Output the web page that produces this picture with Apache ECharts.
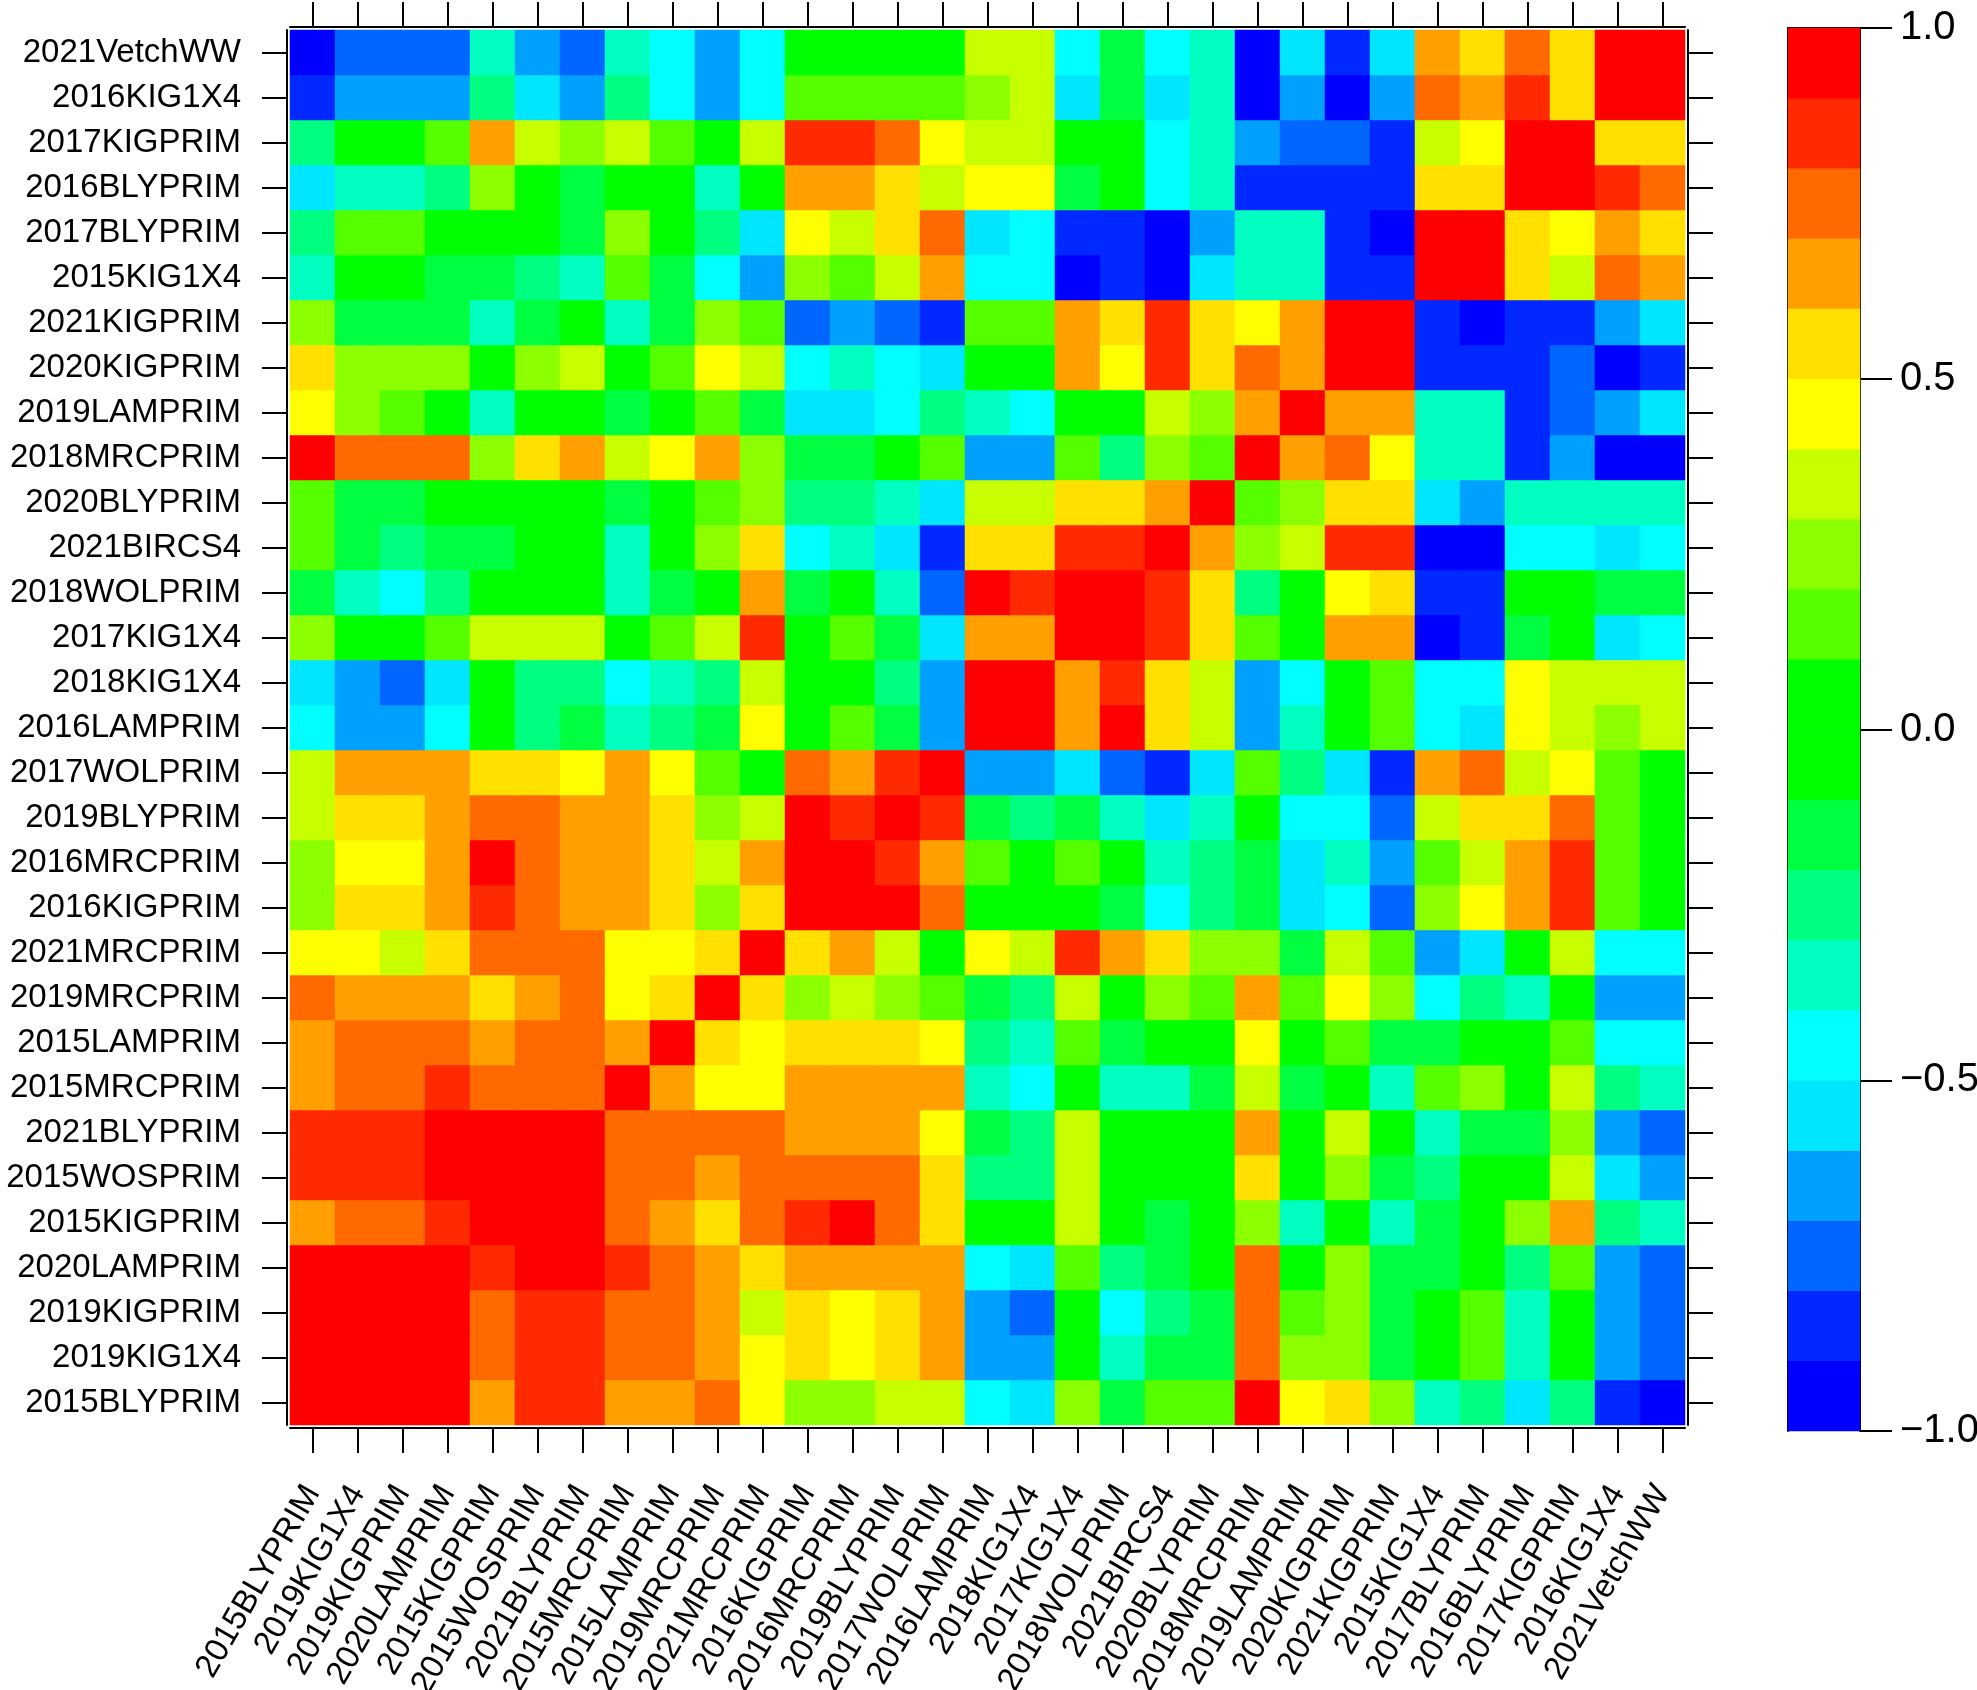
<!DOCTYPE html>
<html>
<head>
<meta charset="utf-8">
<script src="https://cdn.jsdelivr.net/npm/echarts@6/dist/echarts.min.js"></script>
<style>
  html, body { margin: 0; padding: 0; background: #fff; }
  #chart { width: 1977px; height: 1690px; }
</style>
</head>
<body>
<div id="chart"></div>
<script>
// trait order, left to right on x and bottom to top on y
const traits = [
  '2015BLYPRIM', '2019KIG1X4', '2019KIGPRIM', '2020LAMPRIM', '2015KIGPRIM',
  '2015WOSPRIM', '2021BLYPRIM', '2015MRCPRIM', '2015LAMPRIM', '2019MRCPRIM',
  '2021MRCPRIM', '2016KIGPRIM', '2016MRCPRIM', '2019BLYPRIM', '2017WOLPRIM',
  '2016LAMPRIM', '2018KIG1X4', '2017KIG1X4', '2018WOLPRIM', '2021BIRCS4',
  '2020BLYPRIM', '2018MRCPRIM', '2019LAMPRIM', '2020KIGPRIM', '2021KIGPRIM',
  '2015KIG1X4', '2017BLYPRIM', '2016BLYPRIM', '2017KIGPRIM', '2016KIG1X4',
  '2021VetchWW'
];

// lower triangle of the correlation matrix (row i has i+1 values)
const lowerTri = [
  [1],
  [0.95, 1],
  [0.95, 0.95, 1],
  [0.95, 0.95, 0.95, 1],
  [0.65, 0.75, 0.75, 0.85, 1],
  [0.85, 0.85, 0.85, 0.95, 0.95, 1],
  [0.85, 0.85, 0.85, 0.95, 0.95, 0.95, 1],
  [0.65, 0.75, 0.75, 0.85, 0.75, 0.75, 0.75, 1],
  [0.65, 0.75, 0.75, 0.75, 0.65, 0.75, 0.75, 0.65, 1],
  [0.75, 0.65, 0.65, 0.65, 0.55, 0.65, 0.75, 0.45, 0.55, 1],
  [0.45, 0.45, 0.35, 0.55, 0.75, 0.75, 0.75, 0.45, 0.45, 0.55, 1],
  [0.25, 0.55, 0.55, 0.65, 0.85, 0.75, 0.65, 0.65, 0.55, 0.25, 0.55, 1],
  [0.25, 0.45, 0.45, 0.65, 0.95, 0.75, 0.65, 0.65, 0.55, 0.35, 0.65, 0.95, 1],
  [0.35, 0.55, 0.55, 0.65, 0.75, 0.75, 0.65, 0.65, 0.55, 0.25, 0.35, 0.95, 0.85, 1],
  [0.35, 0.65, 0.65, 0.65, 0.55, 0.55, 0.45, 0.65, 0.45, 0.15, 0.05, 0.75, 0.65, 0.85, 1],
  [-0.45, -0.65, -0.65, -0.45, 0.05, -0.25, -0.15, -0.35, -0.25, -0.15, 0.45, 0.05, 0.15, -0.15, -0.65, 1],
  [-0.55, -0.65, -0.75, -0.55, 0.05, -0.25, -0.25, -0.45, -0.35, -0.25, 0.35, 0.05, 0.05, -0.25, -0.65, 0.95, 1],
  [0.25, 0.05, 0.05, 0.15, 0.35, 0.35, 0.35, 0.05, 0.15, 0.35, 0.85, 0.05, 0.15, -0.15, -0.55, 0.65, 0.65, 1],
  [-0.15, -0.35, -0.45, -0.25, 0.05, 0.05, 0.05, -0.35, -0.15, 0.05, 0.65, -0.15, 0.05, -0.35, -0.75, 0.95, 0.85, 0.95, 1],
  [0.15, -0.15, -0.25, -0.15, -0.15, 0.05, 0.05, -0.35, 0.05, 0.25, 0.55, -0.45, -0.35, -0.55, -0.85, 0.55, 0.55, 0.85, 0.85, 1],
  [0.15, -0.15, -0.15, 0.05, 0.05, 0.05, 0.05, -0.15, 0.05, 0.15, 0.25, -0.25, -0.25, -0.35, -0.55, 0.35, 0.35, 0.55, 0.55, 0.65, 1],
  [0.95, 0.75, 0.75, 0.75, 0.25, 0.55, 0.65, 0.35, 0.45, 0.65, 0.25, -0.15, -0.15, 0.05, 0.15, -0.65, -0.65, 0.15, -0.25, 0.25, 0.15, 1],
  [0.45, 0.25, 0.15, 0.05, -0.35, 0.05, 0.05, -0.15, 0.05, 0.15, -0.15, -0.55, -0.55, -0.45, -0.25, -0.35, -0.45, 0.05, 0.05, 0.35, 0.25, 0.65, 1],
  [0.55, 0.25, 0.25, 0.25, 0.05, 0.25, 0.35, 0.05, 0.15, 0.45, 0.35, -0.45, -0.35, -0.45, -0.55, 0.05, 0.05, 0.65, 0.45, 0.85, 0.55, 0.75, 0.65, 1],
  [0.25, -0.15, -0.15, -0.15, -0.35, -0.15, 0.05, -0.35, -0.15, 0.25, 0.15, -0.75, -0.65, -0.75, -0.85, 0.15, 0.15, 0.65, 0.55, 0.85, 0.55, 0.45, 0.65, 0.95, 1],
  [-0.35, 0.05, 0.05, -0.15, -0.15, -0.25, -0.35, 0.15, -0.15, -0.45, -0.65, 0.25, 0.15, 0.35, 0.65, -0.45, -0.45, -0.95, -0.85, -0.95, -0.55, -0.35, -0.35, -0.85, -0.85, 1],
  [-0.25, 0.15, 0.15, 0.05, 0.05, 0.05, -0.15, 0.25, 0.05, -0.25, -0.55, 0.45, 0.35, 0.55, 0.75, -0.55, -0.45, -0.85, -0.85, -0.95, -0.65, -0.35, -0.35, -0.85, -0.95, 0.95, 1],
  [-0.55, -0.35, -0.35, -0.25, 0.25, 0.05, -0.15, 0.05, 0.05, -0.35, 0.05, 0.65, 0.65, 0.55, 0.35, 0.45, 0.45, -0.15, 0.05, -0.45, -0.35, -0.85, -0.85, -0.85, -0.85, 0.55, 0.55, 1],
  [-0.25, 0.05, 0.05, 0.15, 0.65, 0.35, 0.25, 0.35, 0.15, 0.05, 0.35, 0.85, 0.85, 0.75, 0.45, 0.35, 0.35, 0.05, 0.05, -0.45, -0.35, -0.65, -0.75, -0.75, -0.85, 0.35, 0.45, 0.95, 1],
  [-0.85, -0.65, -0.65, -0.65, -0.25, -0.55, -0.65, -0.25, -0.45, -0.65, -0.45, 0.15, 0.15, 0.15, 0.15, 0.25, 0.35, -0.55, -0.15, -0.55, -0.35, -0.95, -0.65, -0.95, -0.65, 0.75, 0.65, 0.85, 0.55, 1],
  [-0.95, -0.75, -0.75, -0.75, -0.35, -0.65, -0.75, -0.35, -0.45, -0.65, -0.45, 0.05, 0.05, 0.05, 0.05, 0.35, 0.35, -0.45, -0.15, -0.45, -0.35, -0.95, -0.55, -0.85, -0.55, 0.65, 0.55, 0.75, 0.55, 0.95, 1]
];

// colour key: bin edges and tick values
const binEdges = [-1, -0.9, -0.8, -0.7, -0.6, -0.5, -0.4, -0.3, -0.2, -0.1, 0,
                  0.1, 0.2, 0.3, 0.4, 0.5, 0.6, 0.7, 0.8, 0.9, 1];
const keyTicks = [-1, -0.5, 0, 0.5, 1];

const palette = [
  '#0000FF', '#0028FF', '#0066FF', '#00A0FF', '#00E6FF',
  '#00FFFF', '#00FFC0', '#00FF80', '#00FF40', '#00FF00',
  '#00FF00', '#55FF00', '#8CFF00', '#C8FF00', '#FFFF00',
  '#FFE000', '#FFA000', '#FF6A00', '#FF2A00', '#FF0000'
];

const FONT = '"Liberation Sans", Arial, sans-serif';

// full symmetric matrix -> heatmap cells [x, y, r]
const cells = [];
for (let i = 0; i < traits.length; i++) {
  for (let j = 0; j < traits.length; j++) {
    const r = i >= j ? lowerTri[i][j] : lowerTri[j][i];
    cells.push([j, i, r]);
  }
}

const binNames = [];
const keyCells = [];
for (let k = 0; k < binEdges.length - 1; k++) {
  binNames.push('b' + k);
  keyCells.push([0, k, (binEdges[k] + binEdges[k + 1]) / 2]);
}

const pieces = palette.map((c, k) => {
  const p = { gte: binEdges[k], color: c };
  if (k === palette.length - 1) p.lte = binEdges[k + 1]; else p.lt = binEdges[k + 1];
  return p;
});

const frame = { show: true, lineStyle: { color: '#000', width: 2 } };
const tick = { show: true, interval: 0, alignWithLabel: true, length: 25, lineStyle: { color: '#000', width: 2 } };

const chart = echarts.init(document.getElementById('chart'));

const option = {
  backgroundColor: '#fff',
  animation: false,
  grid: [
    { left: 290, top: 30, width: 1395, height: 1395, outerBoundsMode: 'none' },
    { left: 1788, top: 28, width: 72, height: 1403, outerBoundsMode: 'none' }
  ],
  visualMap: {
    type: 'piecewise',
    show: false,
    dimension: 2,
    seriesIndex: [0, 1],
    pieces: pieces
  },
  xAxis: [
    {
      type: 'category', gridIndex: 0, data: traits, position: 'bottom', offset: 3,
      axisLine: frame, axisTick: tick, splitLine: { show: false },
      axisLabel: { interval: 0, rotate: 60, fontSize: 33, color: '#000', fontFamily: FONT, margin: 60 }
    },
    {
      type: 'category', gridIndex: 0, data: traits, position: 'top', offset: 3,
      axisLine: frame, axisTick: tick, axisLabel: { show: false, interval: 0 }
    },
    {
      type: 'category', gridIndex: 1, data: ['key'], position: 'bottom',
      axisLine: frame, axisTick: { show: false }, axisLabel: { show: false }
    },
    {
      type: 'category', gridIndex: 1, data: ['key'], position: 'top',
      axisLine: frame, axisTick: { show: false }, axisLabel: { show: false }
    }
  ],
  yAxis: [
    {
      type: 'category', gridIndex: 0, data: traits, position: 'left', offset: 3,
      axisLine: frame, axisTick: tick,
      axisLabel: { interval: 0, fontSize: 33, color: '#000', fontFamily: FONT, margin: 46 }
    },
    {
      type: 'category', gridIndex: 0, data: traits, position: 'right', offset: 3,
      axisLine: frame, axisTick: tick, axisLabel: { show: false, interval: 0 }
    },
    {
      type: 'category', gridIndex: 1, data: binNames, position: 'left',
      axisLine: frame, axisTick: { show: false }, axisLabel: { show: false }
    },
    {
      type: 'value', gridIndex: 1, position: 'right',
      min: keyTicks[0], max: keyTicks[keyTicks.length - 1], interval: 0.5,
      axisLine: frame,
      axisTick: { show: true, length: 32, lineStyle: { color: '#000', width: 2 } },
      splitLine: { show: false },
      axisLabel: {
        fontSize: 40, color: '#000', fontFamily: FONT, margin: 40,
        formatter: v => (v < 0 ? '\u2212' : '') + Math.abs(v).toFixed(1)
      }
    }
  ],
  series: [
    {
      type: 'heatmap', xAxisIndex: 0, yAxisIndex: 0, data: cells,
      emphasis: { disabled: true }
    },
    {
      type: 'heatmap', xAxisIndex: 2, yAxisIndex: 2, data: keyCells,
      emphasis: { disabled: true }
    }
  ]
};

chart.setOption(option);
</script>
</body>
</html>
